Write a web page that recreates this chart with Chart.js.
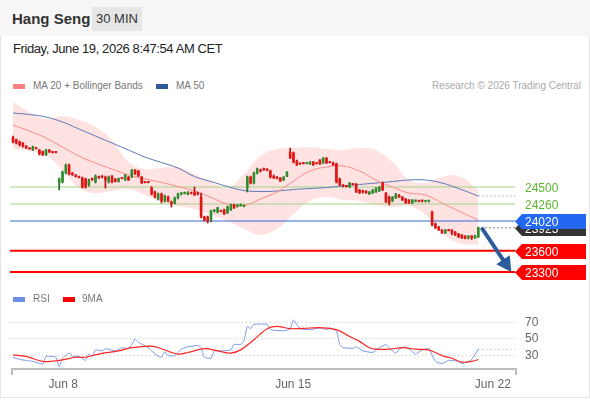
<!DOCTYPE html>
<html>
<head>
<meta charset="utf-8">
<script src="https://cdn.jsdelivr.net/npm/chart.js@4.4.1/dist/chart.umd.min.js"></script>
<style>
  html, body { margin: 0; padding: 0; background: #fff; }
  body { width: 590px; height: 400px; overflow: hidden; position: relative; font-family: 'Liberation Sans', Arial, sans-serif; }
  #card { position: absolute; left: 0; top: 0; width: 588px; height: 397px; border: 1px solid #e4e4e4; border-top: none; }
  #head { position: absolute; left: 0; top: 0; width: 590px; height: 36px; background: #f6f6f6; }
  #title { position: absolute; left: 12px; top: 10px; font-size: 15px; font-weight: bold; color: #333; }
  #badge { position: absolute; left: 92px; top: 7px; width: 50px; height: 24px; line-height: 24px; text-align: center; background: #e6e6e6; font-size: 13px; color: #333; }
  #date { position: absolute; left: 13px; top: 41px; font-size: 13px; letter-spacing: -0.4px; color: #222; }
  .lg { position: absolute; font-size: 10px; color: #777; white-space: nowrap; }
  .sw { position: absolute; width: 12px; height: 5px; }
  canvas { position: absolute; left: 0; }
  #main { top: 95px; }
  #rsi { top: 290px; }
</style>
</head>
<body>
<div id="card"></div>
<div id="head"></div>
<div id="title">Hang Seng</div>
<div id="badge">30 MIN</div>
<div id="date">Friday, June 19, 2026 8:47:54 AM CET</div>

<div class="sw" style="left:13px;top:84px;background:#ff8080"></div>
<div class="lg" style="left:33px;top:80px">MA 20 + Bollinger Bands</div>
<div class="sw" style="left:156px;top:84px;background:#2f5b9b"></div>
<div class="lg" style="left:176px;top:80px">MA 50</div>
<div class="lg" style="right:9px;top:80px;color:#aaa">Research © 2026 Trading Central</div>

<canvas id="main" width="590" height="195"></canvas>
<canvas id="rsi" width="590" height="108"></canvas>

<div class="sw" style="left:13px;top:297px;background:#6d8ee6"></div>
<div class="lg" style="left:33px;top:293px">RSI</div>
<div class="sw" style="left:63px;top:297px;background:#ff0000"></div>
<div class="lg" style="left:82px;top:293px">9MA</div>

<script>
Chart.defaults.font.family = "'Liberation Sans', Arial, sans-serif";
Chart.defaults.color = '#666';

// 30 min candles, bar index 0..141
const opens = [25197,25169,25134,25120,25077,25045,25021,25049,25021,25000,24951,25021,24993,24993,
  24556,24570,24697,24810,24697,24669,24647,24626,24612,24528,24612,24570,24640,24647,
  24640,24570,24654,24612,24577,24626,24598,24640,24640,24739,24725,24640,24570,24570,
  24485,24429,24330,24401,24302,24358,24288,24274,24344,24401,24408,24401,24415,24422,
  24415,24358,24076,24076,24034,24161,24147,24161,24175,24133,24175,24246,24231,24238,
  24231,24485,24640,24556,24697,24739,24753,24753,24725,24654,24640,24626,24598,24654,
  24993,24979,24866,24831,24838,24831,24824,24852,24838,24880,24838,24908,24852,24838,
  24824,24612,24528,24513,24499,24542,24542,24457,24443,24443,24401,24415,24429,24443,
  24556,24415,24358,24302,24344,24387,24358,24330,24316,24274,24302,24302,24309,24295,24302,
  24147,23978,23935,23893,23851,23893,23893,23865,23837,23823,23808,23780,23808,23780,23794];
const highs = [25218,25176,25148,25127,25085,25052,25077,25056,25028,25007,25028,25028,25000,25000,
  24626,24725,24824,24824,24704,24676,24654,24640,24626,24612,24626,24669,24654,24661,
  24654,24654,24661,24619,24626,24633,24676,24647,24746,24746,24732,24647,24577,24577,
  24506,24443,24415,24415,24387,24372,24302,24358,24415,24422,24429,24436,24429,24499,
  24429,24415,24090,24090,24175,24182,24217,24175,24189,24231,24260,24260,24253,24260,
  24246,24654,24654,24711,24767,24753,24767,24760,24739,24669,24647,24633,24647,24718,
  25049,24993,24880,24838,24845,24845,24859,24859,24845,24887,24915,24915,24859,24852,
  24838,24626,24535,24520,24563,24549,24549,24464,24457,24450,24436,24464,24492,24506,
  24570,24422,24372,24365,24408,24394,24365,24337,24323,24323,24316,24316,24316,24309,24309,
  24161,23992,23942,23900,23900,23900,23900,23872,23844,23830,23815,23815,23815,23823,23935];
const lows = [25120,25106,25077,25063,25042,25031,25014,25035,24951,24944,24944,24986,24979,24979,
  24457,24556,24683,24669,24662,24640,24626,24485,24485,24513,24591,24556,24619,24626,
  24485,24556,24556,24570,24570,24612,24591,24591,24633,24676,24647,24549,24556,24556,
  24387,24344,24316,24274,24288,24288,24217,24260,24330,24387,24401,24387,24401,24380,
  24387,24062,24020,23992,24006,24147,24133,24147,24112,24126,24168,24196,24217,24231,
  24217,24429,24542,24542,24683,24711,24732,24725,24626,24619,24612,24577,24591,24647,
  24901,24838,24803,24817,24824,24824,24817,24803,24824,24817,24831,24831,24838,24803,
  24556,24520,24499,24499,24492,24528,24422,24408,24415,24408,24394,24408,24422,24436,
  24450,24281,24246,24295,24337,24351,24309,24267,24267,24267,24288,24288,24288,24288,24288,
  23949,23914,23886,23844,23844,23879,23823,23816,23787,23773,23766,23766,23759,23773,23787];
const closes = [25134,25120,25092,25077,25049,25038,25063,25042,24965,24951,25021,24993,24986,24986,
  24612,24711,24810,24683,24676,24647,24633,24499,24499,24598,24605,24654,24633,24640,
  24598,24640,24570,24577,24619,24619,24669,24598,24739,24683,24654,24556,24563,24563,
  24401,24358,24401,24302,24372,24302,24260,24344,24401,24408,24415,24422,24408,24387,
  24401,24076,24034,24020,24161,24168,24203,24154,24119,24217,24246,24203,24238,24246,
  24238,24640,24556,24697,24753,24725,24746,24739,24640,24626,24619,24584,24640,24711,
  24908,24852,24810,24824,24831,24838,24852,24810,24831,24824,24908,24838,24845,24810,
  24570,24528,24513,24506,24556,24535,24429,24415,24429,24415,24429,24457,24485,24499,
  24457,24288,24274,24358,24401,24358,24316,24274,24274,24316,24309,24295,24302,24295,24302,
  23964,23921,23893,23851,23893,23886,23851,23823,23794,23780,23773,23808,23780,23808,23925];

// MA 20, Bollinger Bands and MA 50 read every 5 bars
const bandIdx = [0,5,10,15,20,25,30,35,40,45,50,55,60,65,70,75,80,85,90,95,100,105,110,115,120,125,130,135,141];
const ma20 = [25373,25289,25190,25063,24936,24838,24753,24669,24612,24563,24506,24443,24351,24260,24238,24330,24429,24584,24725,24781,24795,24725,24598,24499,24415,24387,24274,24161,24034];
const upperBand = [25700,25557,25458,25500,25444,25345,25162,24852,24753,24767,24781,24683,24570,24485,24683,24936,25035,25049,25063,25035,25021,25049,25021,24852,24598,24556,24640,24654,24457];
const lowerBand = [25035,25007,24951,24739,24485,24415,24443,24471,24387,24288,24231,24189,24105,24020,23907,23823,23907,24119,24302,24358,24316,24302,24246,24217,24231,24105,23851,23710,23682];
const ma50 = [25543,25522,25486,25416,25317,25218,25120,25021,24922,24845,24767,24647,24577,24506,24450,24436,24443,24464,24478,24492,24513,24535,24556,24577,24598,24598,24556,24478,24372];

// key levels
const levelValues = [24500, 24260, 24020, 23600, 23300];
const levelLine = ['#a3d486', '#a3d486', '#3567d3', '#ff0000', '#ff0000'];
const levelWidth = [1, 1, 1, 2, 2];
const levelTagBg = [null, null, '#2468f2', '#ff0000', '#ff0000'];
const levelTagText = ['#5cb52e', '#5cb52e', '#ffffff', '#ffffff', '#ffffff'];
const lastPrice = 23925;
const arrowFrom = [142, 23925];
const arrowTo = [151, 23300];

// RSI panel
const rsiIdx = [0,2,4,6,8,9,10,11,13,14,15,17,18,20,22,23,24,25,27,28,29,31,33,35,36,37,38,41,42,44,45,46,47,49,51,53,56,57,58,60,61,63,66,67,69,70,71,72,73,77,78,82,84,85,87,90,93,95,96,98,99,100,103,104,106,109,111,113,114,116,117,119,120,122,124,126,128,130,132,135,136,138,139,141];
const rsiVals = [28.1,25.4,24.3,23.1,20.9,19.7,29.2,29.2,28.1,16.6,26.6,33.1,29.2,29.2,24.3,31.9,29.2,36.9,35.7,38.3,37.7,35.7,39.5,38.3,43.4,49.8,46,39.5,35.7,29.2,28.1,34.6,30,30,37.7,40.6,42.2,39.5,28.1,26.9,35.7,35.7,36.9,43.4,43.4,48.3,65.1,62.3,67.4,67.4,61.2,59.7,62.3,72.6,62.3,61.2,63.1,61.2,63.1,59.4,43.4,39.5,38.8,40.6,35.7,33.8,39.5,43.4,39.5,32.6,37.7,40.6,38.3,31.9,36.9,38.3,23.1,20.5,24.3,23.1,20.5,23.1,25.4,37.7];
const maIdx = [0,4,9,14,19,22,26,32,36,42,45,50,53,58,62,66,69,73,77,80,84,90,93,98,102,105,108,110,114,118,122,126,130,133,136,139,141];
const maVals = [30.8,29.2,23.1,24.3,28.1,28.1,31.9,35.7,39.5,41.4,38.3,31.9,33.8,38.3,35.7,33.1,36.9,49.1,62.3,65.1,62.3,63.1,63.5,61.2,52.9,47.1,39.5,37.7,37.7,39.5,37.7,36.9,30,26.9,22.3,23.1,25.4];
const rsiTicks = [30, 50, 70];
const dayTicks = [15.2, 84.9, 145.4];
const dayLabels = ['Jun 8', 'Jun 15', 'Jun 22'];

const xMin = -0.91, xMax = 152.12;
const lastIdx = closes.length - 1;

function pts(xs, ys) { return xs.map((x, i) => ({ x: x, y: ys[i] })); }
function flat(v, a, b) { return [{ x: a, y: v }, { x: b, y: v }]; }

const upColor = '#2f8f2f', downColor = '#e31414';
const bodyColors = closes.map((c, i) => c >= opens[i] ? upColor : downColor);
const wickColors = closes.map((c, i) => c >= opens[i] ? '#226b22' : '#b81010');

const lineBase = { type: 'line', pointRadius: 0, fill: false };

const levelSets = levelValues.map((v, i) => Object.assign({}, lineBase, {
  data: flat(v, xMin, xMax), borderColor: levelLine[i], borderWidth: levelWidth[i], order: 8
}));

// price tags and arrow on the right side
const tagPlugin = {
  id: 'tags',
  afterDatasetsDraw(chart) {
    const ctx = chart.ctx, ys = chart.scales.y, xs = chart.scales.x;
    ctx.save();
    // arrow
    const x1 = xs.getPixelForValue(arrowFrom[0]), y1 = ys.getPixelForValue(arrowFrom[1]);
    const x2 = xs.getPixelForValue(arrowTo[0]), y2 = ys.getPixelForValue(arrowTo[1]);
    const ang = Math.atan2(y2 - y1, x2 - x1);
    ctx.strokeStyle = '#2d5c9c'; ctx.fillStyle = '#2d5c9c'; ctx.lineWidth = 4;
    ctx.beginPath(); ctx.moveTo(x1, y1);
    ctx.lineTo(x2 - 12 * Math.cos(ang), y2 - 12 * Math.sin(ang)); ctx.stroke();
    ctx.beginPath(); ctx.moveTo(x2, y2);
    ctx.lineTo(x2 - 17 * Math.cos(ang - 0.5), y2 - 17 * Math.sin(ang - 0.5));
    ctx.lineTo(x2 - 17 * Math.cos(ang + 0.5), y2 - 17 * Math.sin(ang + 0.5));
    ctx.closePath(); ctx.fill();

    ctx.font = "12px 'Liberation Sans', Arial, sans-serif";
    ctx.textBaseline = 'middle';
    const x0 = chart.chartArea.right, h = 15;
    function tag(v, bg, fg) {
      const y = Math.round(ys.getPixelForValue(v)) + 0.5;
      if (bg) {
        ctx.fillStyle = bg;
        ctx.beginPath();
        ctx.moveTo(x0, y); ctx.lineTo(x0 + 7, y - h / 2); ctx.lineTo(586, y - h / 2);
        ctx.lineTo(586, y + h / 2); ctx.lineTo(x0 + 7, y + h / 2); ctx.closePath(); ctx.fill();
      }
      ctx.fillStyle = fg;
      ctx.fillText(String(v), 525, y + 1);
    }
    tag(lastPrice, '#333333', '#ffffff');
    levelValues.forEach((v, i) => tag(v, levelTagBg[i], levelTagText[i]));
    ctx.restore();
  }
};

new Chart(document.getElementById('main'), {
  type: 'bar',
  data: {
    datasets: [
      Object.assign({}, lineBase, { data: pts(bandIdx, upperBand), fill: '+1', backgroundColor: 'rgba(255,150,150,0.28)', borderWidth: 0, tension: 0.4, order: 10 }),
      Object.assign({}, lineBase, { data: pts(bandIdx, lowerBand), borderWidth: 0, tension: 0.4, order: 10 }),
      Object.assign({}, lineBase, { data: pts(bandIdx, ma20), borderColor: '#ff8a8a', borderWidth: 1, tension: 0.4, order: 6 }),
      Object.assign({}, lineBase, { data: pts(bandIdx, ma50), borderColor: '#5b78b8', borderWidth: 1, tension: 0.4, order: 6 }),
      Object.assign({}, lineBase, { data: flat(ma50[ma50.length - 1], lastIdx, xMax), borderColor: '#5b78b8', borderWidth: 1, borderDash: [1, 3], order: 6 }),
      Object.assign({}, lineBase, { data: flat(lastPrice, lastIdx + 1, xMax), borderColor: '#222', borderWidth: 1, borderDash: [1, 3], order: 6 }),
      ...levelSets,
      {
        data: closes.map((c, i) => ({ x: i, y: [lows[i], highs[i]] })),
        backgroundColor: wickColors, barThickness: 1, grouped: false, order: 2
      },
      {
        data: closes.map((c, i) => ({ x: i, y: [opens[i], c] })),
        backgroundColor: bodyColors, barThickness: 2, minBarLength: 1, grouped: false, order: 1
      }
    ]
  },
  options: {
    responsive: false,
    animation: false,
    layout: { padding: { left: 10, right: 75, top: 0, bottom: 0 } },
    plugins: { legend: { display: false }, tooltip: { enabled: false } },
    scales: {
      x: { type: 'linear', min: xMin, max: xMax, offset: false, display: false },
      y: { type: 'linear', min: 23047, max: 25797, beginAtZero: false, display: false }
    }
  },
  plugins: [tagPlugin]
});

// bottom axis line with end ticks
const axisPlugin = {
  id: 'axisLine',
  afterDraw(chart) {
    const { ctx, chartArea: a } = chart;
    ctx.save();
    ctx.strokeStyle = '#bdbdbd'; ctx.lineWidth = 2;
    ctx.beginPath();
    ctx.moveTo(a.left + 2, a.bottom + 6); ctx.lineTo(a.left + 2, a.bottom);
    ctx.lineTo(a.right + 1, a.bottom); ctx.lineTo(a.right + 1, a.bottom + 6);
    ctx.stroke();
    ctx.restore();
  }
};

new Chart(document.getElementById('rsi'), {
  type: 'line',
  data: {
    datasets: [
      { data: pts(maIdx, maVals), borderColor: '#ff2424', borderWidth: 1.2, pointRadius: 0, tension: 0.35 },
      { data: pts(rsiIdx, rsiVals), borderColor: '#7b97ea', borderWidth: 1, pointRadius: 0, tension: 0.15 },
      { data: flat(rsiVals[rsiVals.length - 1], lastIdx, xMax), borderColor: '#7b97ea', borderWidth: 1, borderDash: [1, 3], pointRadius: 0 }
    ]
  },
  options: {
    responsive: false,
    animation: false,
    layout: { padding: { left: 10, top: 14, right: 0, bottom: 0 } },
    plugins: { legend: { display: false }, tooltip: { enabled: false } },
    scales: {
      x: {
        type: 'linear', min: xMin, max: xMax, offset: false,
        grid: { display: false, drawTicks: false }, border: { display: false },
        afterBuildTicks: s => { s.ticks = dayTicks.map(v => ({ value: v })); },
        afterFit: s => { s.height = 29; },
        ticks: { autoSkip: false, maxRotation: 0, padding: 8, color: '#666', font: { size: 12 },
          callback: (v, i) => dayLabels[i] }
      },
      y: {
        position: 'right', min: 14, max: 88,
        afterBuildTicks: s => { s.ticks = rsiTicks.map(v => ({ value: v })); },
        afterFit: s => { s.width = 75; },
        grid: { color: '#c4c4c4', drawTicks: false },
        border: { display: false, dash: [1, 3] },
        ticks: { padding: 10, color: '#666', font: { size: 12 } }
      }
    }
  },
  plugins: [axisPlugin]
});
</script>
</body>
</html>
